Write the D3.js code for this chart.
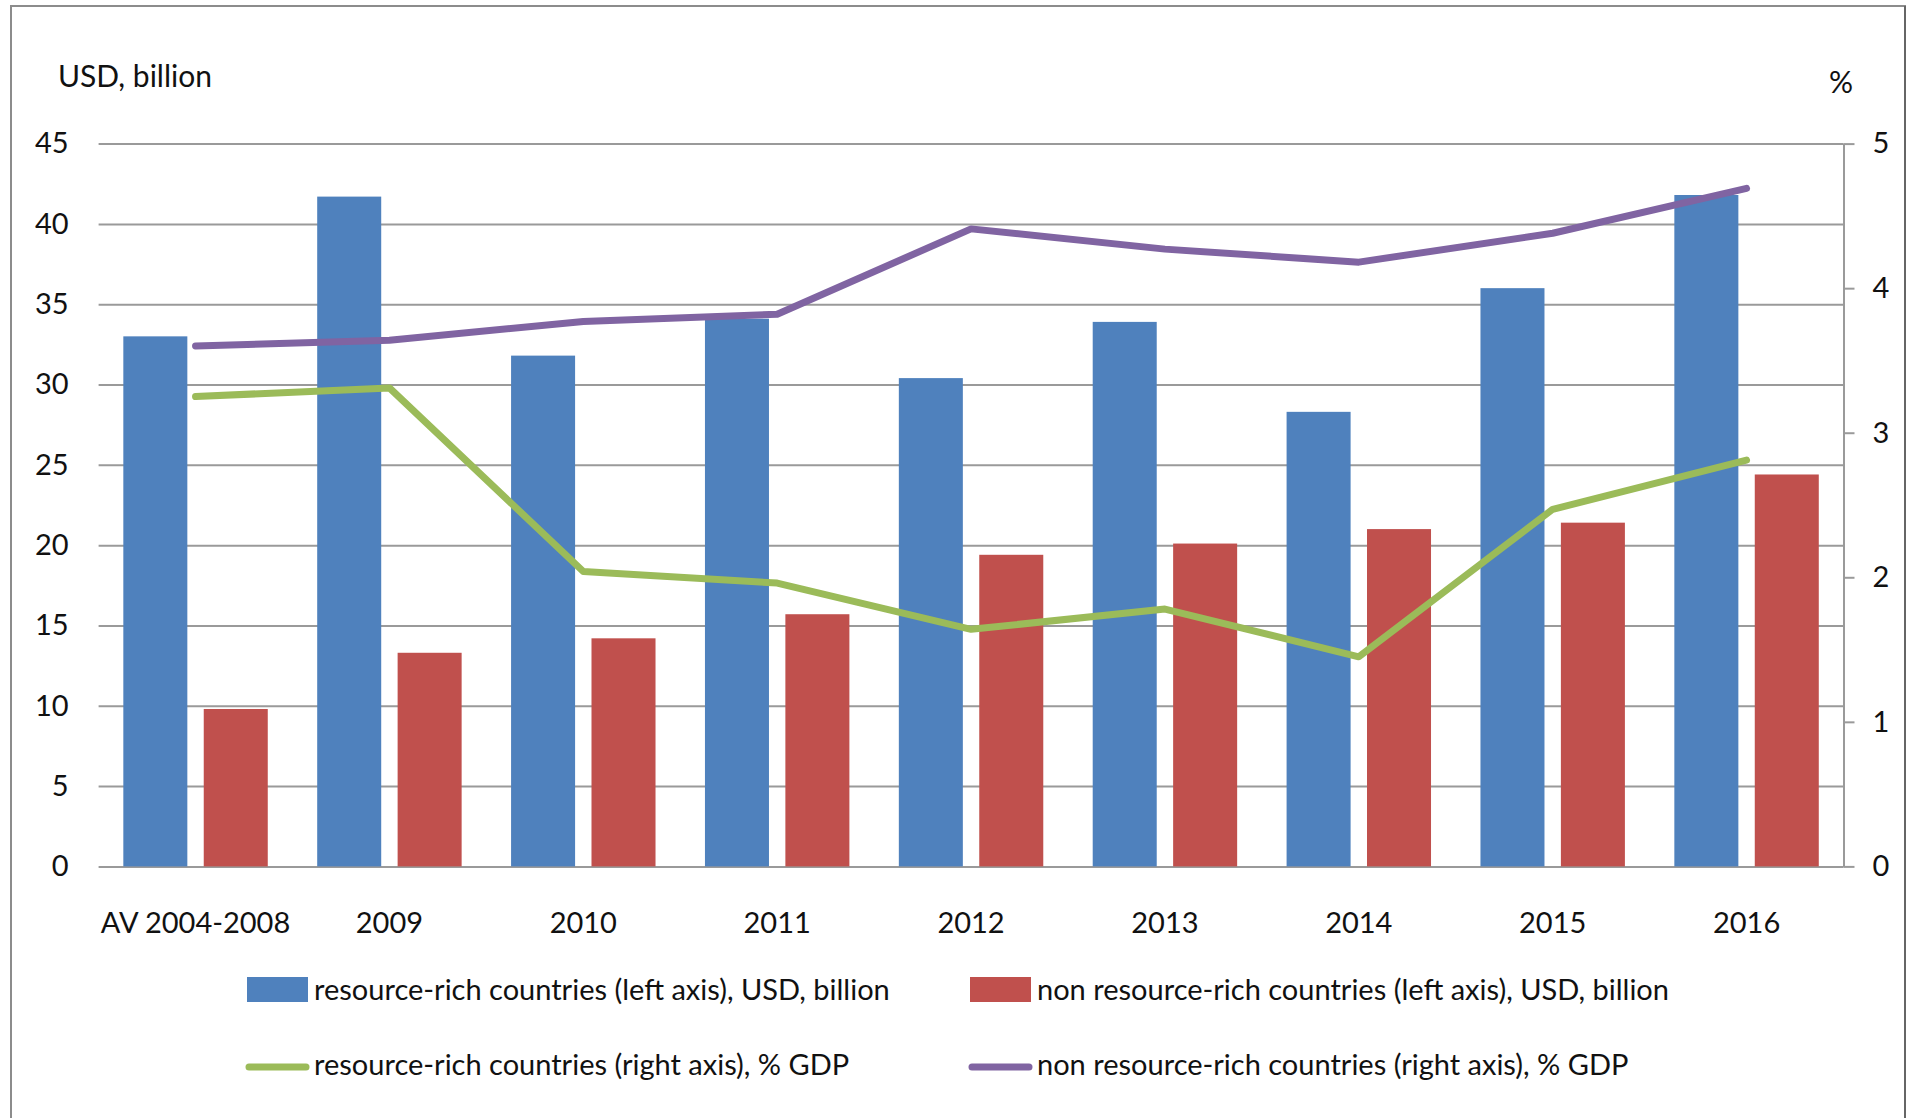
<!DOCTYPE html>
<html>

<head>
    <meta charset="utf-8">
    <title>Resource-rich vs non resource-rich countries</title>
    <style>
        body {
            margin: 0;
            background: #fff;
        }

        svg text {
            font-family: Lato, "Open Sans", sans-serif;
            fill: #111;
        }

        .grid line {
            stroke: #9a9a9a;
            stroke-width: 2;
        }

        .raxis path,
        .raxis line {
            stroke: #9a9a9a;
            stroke-width: 2;
        }
    </style>
</head>

<body>
    <svg width="1908" height="1118"></svg>
    <script src="https://cdn.jsdelivr.net/npm/d3@7"></script>
    <script>
        // Data
        var categories = ["AV 2004-2008", "2009", "2010", "2011", "2012", "2013", "2014", "2015", "2016"];
        var richUsd = [33.0, 41.7, 31.8, 34.1, 30.4, 33.9, 28.3, 36.0, 41.8];
        var nonRichUsd = [9.8, 13.3, 14.2, 15.7, 19.4, 20.1, 21.0, 21.4, 24.4];
        var richPct = [3.25, 3.31, 2.04, 1.96, 1.64, 1.78, 1.45, 2.47, 2.81];
        var nonRichPct = [3.60, 3.64, 3.77, 3.82, 4.41, 4.27, 4.18, 4.38, 4.69];
        var leftTicks = [0, 5, 10, 15, 20, 25, 30, 35, 40, 45];
        var rightTicks = [0, 1, 2, 3, 4, 5];
        var seriesNames = [
            "resource-rich countries (left axis), USD, billion",
            "non resource-rich countries (left axis), USD, billion",
            "resource-rich countries (right axis), % GDP",
            "non resource-rich countries (right axis), % GDP"
        ];
        var colors = ["#4f81bd", "#c0504d", "#9bbb59", "#8064a2"];

        var svg = d3.select("svg");
        var plotLeft = 98.6, plotRight = 1843.5, plotTop = 143.6, plotBottom = 866.4;
        var fontSize = 29;

        // outer frame
        svg.append("rect")
            .attr("x", 11).attr("y", 6)
            .attr("width", 1894).attr("height", 1140)
            .attr("fill", "none")
            .attr("stroke", "#8c8c8c")
            .attr("stroke-width", 2);
        svg.append("line")
            .attr("x1", 1905).attr("x2", 1905)
            .attr("y1", 6).attr("y2", 1118)
            .attr("stroke", "#666")
            .attr("stroke-width", 2);

        // Scales
        var x = d3.scaleBand()
            .domain(categories)
            .range([plotLeft, plotRight])
            .paddingInner(0.255)
            .paddingOuter(0.1275);
        var x1 = d3.scaleBand()
            .domain([0, 1])
            .range([0, x.bandwidth()])
            .paddingInner(0.204);
        var yL = d3.scaleLinear().domain([0, 45]).range([plotBottom, plotTop]);
        var yR = d3.scaleLinear().domain([0, 5]).range([plotBottom, plotTop]);

        // Left axis + gridlines
        var gl = svg.append("g")
            .attr("class", "grid")
            .attr("transform", "translate(" + plotLeft + ",0)")
            .call(d3.axisLeft(yL).tickValues(leftTicks).tickSize(-(plotRight - plotLeft)).tickPadding(30));
        gl.select(".domain").remove();
        gl.selectAll("text").style("font-size", fontSize + "px");

        // Bars
        var rows = categories.map(function (c, i) {
            return { cat: c, vals: [richUsd[i], nonRichUsd[i]] };
        });
        svg.append("g")
            .selectAll("g")
            .data(rows)
            .enter().append("g")
            .attr("transform", function (d) { return "translate(" + x(d.cat) + ",0)"; })
            .selectAll("rect")
            .data(function (d) { return d.vals; })
            .enter().append("rect")
            .attr("x", function (d, i) { return x1(i); })
            .attr("width", x1.bandwidth())
            .attr("y", function (d) { return yL(d); })
            .attr("height", function (d) { return plotBottom - yL(d); })
            .attr("fill", function (d, i) { return colors[i]; });

        // Lines on right axis
        var line = d3.line()
            .x(function (d, i) { return x(categories[i]) + x.bandwidth() / 2; })
            .y(function (d) { return yR(d); });
        [richPct, nonRichPct].forEach(function (s, k) {
            svg.append("path")
                .datum(s)
                .attr("d", line)
                .attr("fill", "none")
                .attr("stroke", colors[k + 2])
                .attr("stroke-width", 7)
                .attr("stroke-linecap", "round")
                .attr("stroke-linejoin", "round");
        });

        // Right axis
        var gr = svg.append("g")
            .attr("class", "raxis")
            .attr("transform", "translate(" + plotRight + ",0)")
            .call(d3.axisRight(yR).tickValues(rightTicks).tickFormat(d3.format("d"))
                .tickSize(11).tickSizeOuter(0).tickPadding(18));
        gr.selectAll("text").style("font-size", fontSize + "px");

        // Category axis
        var gx = svg.append("g")
            .attr("transform", "translate(0," + plotBottom + ")")
            .call(d3.axisBottom(x).tickSize(0).tickPadding(46));
        gx.select(".domain").remove();
        gx.selectAll("text").style("font-size", fontSize + "px");

        // Axis titles
        svg.append("text")
            .attr("x", 58).attr("y", 87)
            .style("font-size", "30px")
            .text("USD, billion");
        svg.append("text")
            .attr("x", 1829).attr("y", 93)
            .style("font-size", "30px")
            .text("%");

        // Legend
        var legendPos = [[247, 1000], [970, 1000], [247, 1075], [970, 1075]];
        var legend = svg.append("g").attr("class", "legend");
        seriesNames.forEach(function (name, i) {
            var p = legendPos[i];
            if (i < 2) {
                legend.append("rect")
                    .attr("x", p[0]).attr("y", p[1] - 23)
                    .attr("width", 61).attr("height", 25)
                    .attr("fill", colors[i]);
            } else {
                legend.append("line")
                    .attr("x1", p[0] + 2).attr("x2", p[0] + 59)
                    .attr("y1", p[1] - 8).attr("y2", p[1] - 8)
                    .attr("stroke", colors[i])
                    .attr("stroke-width", 7)
                    .attr("stroke-linecap", "round");
            }
            legend.append("text")
                .attr("x", p[0] + 67).attr("y", p[1])
                .style("font-size", fontSize + "px")
                .text(name);
        });
    </script>
</body>

</html>
